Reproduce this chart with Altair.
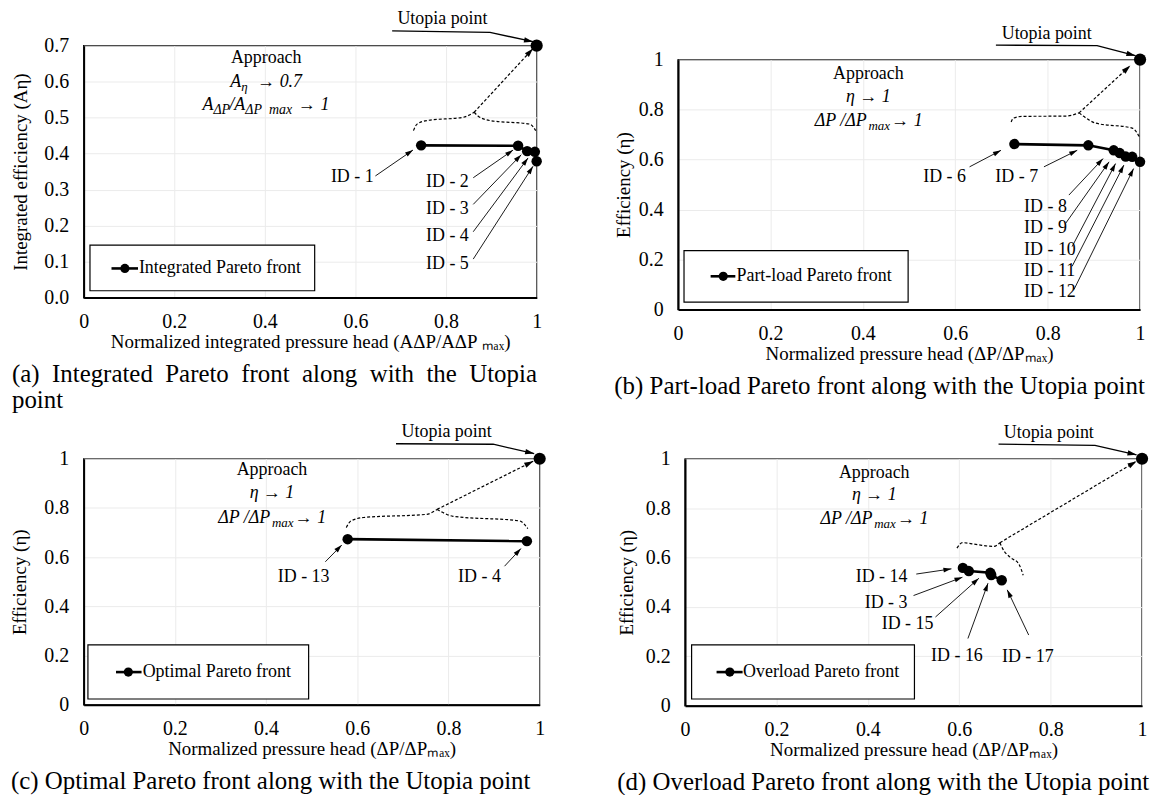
import math
import altair as alt
import pandas as pd

SERIF = "Liberation Serif"
ARROW_HEAD = "M0,0L0.3,1L-0.3,1Z"   # tip at the origin, body behind it
EN = "\u2002"                       # wide word gap for the justified caption line

X_TICKS = [0, 0.2, 0.4, 0.6, 0.8, 1]
Y_TICKS_A = [0, 0.1, 0.2, 0.3, 0.4, 0.5, 0.6, 0.7]
Y_TICKS = [0, 0.2, 0.4, 0.6, 0.8, 1]

# ---------------- (a) integrated Pareto front ----------------
a_ids = ["ID - 1", "ID - 2", "ID - 3", "ID - 4", "ID - 5"]
a_head = [0.745, 0.959, 0.979, 0.996, 1.000]
a_eff = [0.423, 0.422, 0.407, 0.405, 0.379]
a_lab_x = [0.593, 0.803, 0.803, 0.803, 0.803]
a_lab_y = [0.335, 0.322, 0.246, 0.170, 0.094]
a_lab_align = ["center"] * 5
a_tail_x = [0.644, 0.860, 0.860, 0.860, 0.860]
a_tail_y = [0.338, 0.333, 0.259, 0.183, 0.107]
a_tip_x = [0.727, 0.948, 0.966, 0.981, 0.992]
a_tip_y = [0.410, 0.410, 0.397, 0.388, 0.365]
a_brace_l_x = [0.728, 0.736, 0.758, 0.838, 0.862]
a_brace_l_y = [0.464, 0.482, 0.492, 0.501, 0.515]
a_brace_r_x = [0.862, 0.871, 0.897, 0.985, 0.998]
a_brace_r_y = [0.515, 0.504, 0.492, 0.482, 0.464]
a_dash_end = [0.992, 0.692]
a_lead_x = [0.681, 0.897, 0.992]
a_lead_y = [0.741, 0.737, 0.711]
a_utopia_lab = [0.792, 0.773]
a_appr_x = 0.403
a_appr_y = [0.665, 0.600, 0.534]
a_leg_box = [0.014, 0.510, 0.019, 0.146]
a_leg_line = [0.0615, 0.120]
a_leg_dot = 0.091
a_leg_y = 0.081
a_leg_text_x = 0.122

# ---------------- (b) part-load Pareto front ----------------
b_ids = ["ID - 6", "ID - 7", "ID - 8", "ID - 9", "ID - 10", "ID - 11", "ID - 12"]
b_head = [0.728, 0.888, 0.943, 0.956, 0.969, 0.983, 1.000]
b_eff = [0.662, 0.657, 0.637, 0.626, 0.612, 0.611, 0.591]
b_lab_x = [0.577, 0.733, 0.749, 0.749, 0.749, 0.749, 0.749]
b_lab_y = [0.531, 0.531, 0.412, 0.326, 0.240, 0.155, 0.070]
b_lab_align = ["center", "center", "left", "left", "left", "left", "left"]
b_tail_x = [0.631, 0.792, 0.846, 0.839, 0.853, 0.853, 0.857]
b_tail_y = [0.571, 0.571, 0.458, 0.345, 0.252, 0.173, 0.080]
b_tip_x = [0.699, 0.864, 0.920, 0.933, 0.947, 0.965, 0.986]
b_tip_y = [0.637, 0.637, 0.604, 0.591, 0.584, 0.578, 0.564]
b_brace_l_x = [0.721, 0.726, 0.746, 0.839, 0.868]
b_brace_l_y = [0.750, 0.766, 0.773, 0.774, 0.787]
b_brace_r_x = [0.868, 0.877, 0.904, 0.983, 0.999]
b_brace_r_y = [0.787, 0.774, 0.746, 0.726, 0.690]
b_dash_end = [0.979, 0.976]
b_lead_x = [0.688, 0.907, 0.990]
b_lead_y = [1.058, 1.056, 1.016]
b_utopia_lab = [0.798, 1.102]
b_appr_x = 0.412
b_appr_y = [0.943, 0.850, 0.755]
b_leg_box = [0.0129, 0.498, 0.030, 0.236]
b_leg_line = [0.0705, 0.124]
b_leg_dot = 0.0978
b_leg_y = 0.133
b_leg_text_x = 0.1265

# ---------------- (c) optimal Pareto front ----------------
c_ids = ["ID - 13", "ID - 4"]
c_head = [0.579, 0.972]
c_eff = [0.673, 0.665]
c_lab_x = [0.4825, 0.868]
c_lab_y = [0.520, 0.520]
c_lab_align = ["center", "center"]
c_tail_x = [0.530, 0.923]
c_tail_y = [0.581, 0.563]
c_tip_x = [0.566, 0.959]
c_tip_y = [0.649, 0.635]
c_brace_l_x = [0.576, 0.586, 0.614, 0.752, 0.775]
c_brace_l_y = [0.720, 0.747, 0.761, 0.774, 0.794]
c_brace_r_x = [0.775, 0.785, 0.810, 0.956, 0.974]
c_brace_r_y = [0.794, 0.784, 0.766, 0.747, 0.716]
c_dash_end = [0.986, 0.990]
c_lead_x = [0.685, 0.898, 0.988]
c_lead_y = [1.061, 1.059, 1.021]
c_utopia_lab = [0.796, 1.108]
c_appr_x = 0.413
c_appr_y = [0.954, 0.860, 0.760]
c_leg_box = [0.0094, 0.4934, 0.023, 0.243]
c_leg_line = [0.071, 0.127]
c_leg_dot = 0.098
c_leg_y = 0.1325
c_leg_text_x = 0.1295

# ---------------- (d) overload Pareto front ----------------
d_ids = ["ID - 14", "ID - 3", "ID - 15", "ID - 16", "ID - 17"]
d_head = [0.608, 0.621, 0.668, 0.670, 0.693]
d_eff = [0.558, 0.545, 0.538, 0.529, 0.508]
d_lab_x = [0.430, 0.440, 0.487, 0.595, 0.750]
d_lab_y = [0.522, 0.415, 0.330, 0.202, 0.198]
d_lab_align = ["center"] * 5
d_tail_x = [0.506, 0.500, 0.548, 0.619, 0.752]
d_tail_y = [0.533, 0.446, 0.359, 0.272, 0.286]
d_tip_x = [0.583, 0.607, 0.643, 0.663, 0.705]
d_tip_y = [0.554, 0.520, 0.516, 0.496, 0.469]
d_brace_l_x = [0.595, 0.607, 0.640, 0.675, 0.689]
d_brace_l_y = [0.638, 0.660, 0.652, 0.645, 0.660]
d_brace_r_x = [0.689, 0.695, 0.712, 0.730, 0.740]
d_brace_r_y = [0.660, 0.636, 0.600, 0.575, 0.528]
d_dash_end = [0.988, 0.990]
d_lead_x = [0.686, 0.897, 0.988]
d_lead_y = [1.059, 1.054, 1.016]
d_utopia_lab = [0.796, 1.103]
d_appr_x = 0.414
d_appr_y = [0.943, 0.852, 0.754]
d_leg_box = [0.0144, 0.502, 0.027, 0.246]
d_leg_line = [0.069, 0.126]
d_leg_dot = 0.098
d_leg_y = 0.136
d_leg_text_x = 0.127

# "Approach" formula lines: (text, dx, dy, size, align)
A_LINE2 = [("A", -36, 0, 18, "left"), ("η", -25, 5, 13, "left"), ("→ 0.7", -9, 0, 18, "left")]
A_LINE3 = [("A", -64, 0, 18, "left"), ("ΔP", -53, 5, 14, "left"), ("/A", -37, 0, 18, "left"),
           ("ΔP\u00a0\u00a0max", -21, 5, 14, "left"), ("→ 1", 32, 0, 18, "left")]
ETA_LINE2 = [("η → 1", 0, 0, 18, "center")]
ETA_LINE3 = [("ΔP /ΔP", -54, 0, 18, "left"), ("max", 0, 5, 13, "left"), ("→ 1", 23, 0, 18, "left")]

X_TITLE = "Normalized pressure head (ΔP/ΔPₘₐₓ)"
X_TITLE_A = "Normalized integrated pressure head (AΔP/AΔP ₘₐₓ)"

AXIS_STYLE = dict(labelFont=SERIF, labelFontSize=20, labelColor="black",
                  titleFont=SERIF, titleFontSize=19, titleFontWeight="normal", titleColor="black",
                  domainColor="black", domainWidth=2, gridColor="#ebebeb", gridWidth=1,
                  grid=True, ticks=False, labelFlush=False, labelOverlap=False)


def build_panel(p):
    W, H, ymax = p["w"], p["h"], p["ymax"]
    xsc = alt.Scale(domain=[0, 1], nice=False, zero=False)
    ysc = alt.Scale(domain=[0, ymax], nice=False, zero=False)
    ppx, ppy = W, H / ymax

    # one shared axis definition per channel, repeated on every layer so they merge cleanly
    x_axis = alt.Axis(values=X_TICKS, format="~g", title=p["xtitle"],
                      labelPadding=14, titlePadding=1, **AXIS_STYLE)
    y_axis = alt.Axis(values=p["yticks"], format=p["yfmt"], title=p["ytitle"],
                      labelPadding=15, titlePadding=p["ytitlepad"], **AXIS_STYLE)

    def ex(f="x"):
        return alt.X(f"{f}:Q", scale=xsc, axis=x_axis, title=p["xtitle"])

    def ey(f="y"):
        return alt.Y(f"{f}:Q", scale=ysc, axis=y_axis, title=p["ytitle"])

    def heading(x0, y0, x1, y1):
        return math.degrees(math.atan2((x1 - x0) * ppx, (y1 - y0) * ppy)) % 360

    def text(x, y, t, size=18, align="center", dx=0, dy=0, italic=False):
        df = pd.DataFrame({"x": [x], "y": [y], "t": [t]})
        kw = dict(font=SERIF, fontSize=size, align=align, baseline="middle",
                  dx=dx, dy=dy, color="black")
        if italic:
            kw["fontStyle"] = "italic"
        return alt.Chart(df).mark_text(**kw).encode(x=ex(), y=ey(), text="t:N")

    def heads(xs0, ys0, xs1, ys1, size):
        df = pd.DataFrame({
            "x": xs1, "y": ys1,
            "ang": [heading(a, b, c, d) for a, b, c, d in zip(xs0, ys0, xs1, ys1)],
        })
        return alt.Chart(df).mark_point(shape=ARROW_HEAD, filled=True, size=size,
                                        color="black", opacity=1, strokeWidth=0).encode(
            x=ex(), y=ey(), angle=alt.Angle("ang:Q", scale=None))

    layers = []

    # legend frame with its line-and-dot sample
    lb = p["leg_box"]
    box = pd.DataFrame({"x0": [lb[0]], "x1": [lb[1]], "y0": [lb[2]], "y1": [lb[3]]})
    layers.append(alt.Chart(box).mark_rect(fill="white", stroke="black", strokeWidth=1.2).encode(
        x=ex("x0"), x2=alt.X2("x1"), y=ey("y0"), y2=alt.Y2("y1")))
    sample = pd.DataFrame({"x0": [p["leg_line"][0]], "x1": [p["leg_line"][1]], "y": [p["leg_y"]]})
    layers.append(alt.Chart(sample).mark_rule(color="black", strokeWidth=2.6).encode(
        x=ex("x0"), x2=alt.X2("x1"), y=ey()))
    dot = pd.DataFrame({"x": [p["leg_dot"]], "y": [p["leg_y"]]})
    layers.append(alt.Chart(dot).mark_circle(size=85, color="black", opacity=1).encode(x=ex(), y=ey()))
    layers.append(text(p["leg_text_x"], p["leg_y"], p["leg_text"], align="left"))

    # dashed brace over the front and dashed arrow towards the Utopia point
    bl_x, bl_y = p["brace_l"]
    br_x, br_y = p["brace_r"]
    brace = pd.DataFrame({
        "x": bl_x + br_x, "y": bl_y + br_y,
        "half": ["l"] * len(bl_x) + ["r"] * len(br_x),
        "o": list(range(len(bl_x))) + list(range(len(br_x))),
    })
    layers.append(alt.Chart(brace).mark_line(color="black", strokeWidth=1.2, strokeDash=[3, 2],
                                             interpolate="monotone").encode(
        x=ex(), y=ey(), detail="half:N", order="o:Q"))
    tip_x, tip_y = bl_x[-1], bl_y[-1]
    dash = pd.DataFrame({"x0": [tip_x], "y0": [tip_y], "x1": [p["dash_end"][0]], "y1": [p["dash_end"][1]]})
    layers.append(alt.Chart(dash).mark_rule(color="black", strokeWidth=1.2, strokeDash=[3, 2]).encode(
        x=ex("x0"), y=ey("y0"), x2=alt.X2("x1"), y2=alt.Y2("y1")))
    layers.append(heads([tip_x], [tip_y], [p["dash_end"][0]], [p["dash_end"][1]], 330))

    # ID call-out arrows and labels
    arrows = pd.DataFrame({"x0": p["tail_x"], "y0": p["tail_y"], "x1": p["tip_x"], "y1": p["tip_y"]})
    layers.append(alt.Chart(arrows).mark_rule(color="black", strokeWidth=0.9).encode(
        x=ex("x0"), y=ey("y0"), x2=alt.X2("x1"), y2=alt.Y2("y1")))
    layers.append(heads(p["tail_x"], p["tail_y"], p["tip_x"], p["tip_y"], 260))
    for t, lx, ly, al in zip(p["ids"], p["lab_x"], p["lab_y"], p["lab_align"]):
        layers.append(text(lx, ly, t, align=al))

    # Pareto front: line through the designs plus filled markers
    front = pd.DataFrame({"x": p["head"], "y": p["eff"], "o": list(range(len(p["head"])))})
    layers.append(alt.Chart(front).mark_line(color="black", strokeWidth=2.6).encode(
        x=ex(), y=ey(), order="o:Q"))
    layers.append(alt.Chart(front).mark_circle(size=110, color="black", opacity=1).encode(x=ex(), y=ey()))

    # Utopia point, its label and leader arrow
    utopia = pd.DataFrame({"x": [1.0], "y": [ymax]})
    layers.append(alt.Chart(utopia).mark_circle(size=150, color="black", opacity=1).encode(x=ex(), y=ey()))
    lead = pd.DataFrame({"x": p["lead_x"], "y": p["lead_y"], "o": [0, 1, 2]})
    layers.append(alt.Chart(lead).mark_line(color="black", strokeWidth=1.3).encode(
        x=ex(), y=ey(), order="o:Q"))
    layers.append(heads([p["lead_x"][1]], [p["lead_y"][1]], [p["lead_x"][2]], [p["lead_y"][2]], 330))
    layers.append(text(p["utopia_lab"][0], p["utopia_lab"][1], "Utopia point"))

    # "Approach" note
    ax = p["appr_x"]
    layers.append(text(ax, p["appr_y"][0], "Approach"))
    for line, ly in ((p["line2"], p["appr_y"][1]), (p["line3"], p["appr_y"][2])):
        for t, dx, dy, size, al in line:
            layers.append(text(ax, ly, t, size=size, align=al, dx=dx, dy=dy, italic=True))

    cap = alt.TitleParams(text=p["caption"], orient="bottom", anchor="start", frame="bounds",
                          offset=11, lineHeight=26, font=SERIF, fontSize=25,
                          fontWeight="normal", color="black")
    return alt.layer(*layers).properties(width=W, height=H, title=cap)


panels = {
    "a": dict(w=455, h=253, ymax=0.7, yticks=Y_TICKS_A, yfmt=".1f",
              xtitle=X_TITLE_A, ytitle="Integrated efficiency (Aη)", ytitlepad=13,
              caption=[EN.join("(a) Integrated Pareto front along with the Utopia".split(" ")), "point"],
              ids=a_ids, head=a_head, eff=a_eff, lab_x=a_lab_x, lab_y=a_lab_y, lab_align=a_lab_align,
              tail_x=a_tail_x, tail_y=a_tail_y, tip_x=a_tip_x, tip_y=a_tip_y,
              brace_l=(a_brace_l_x, a_brace_l_y), brace_r=(a_brace_r_x, a_brace_r_y),
              dash_end=a_dash_end, lead_x=a_lead_x, lead_y=a_lead_y, utopia_lab=a_utopia_lab,
              appr_x=a_appr_x, appr_y=a_appr_y, line2=A_LINE2, line3=A_LINE3,
              leg_box=a_leg_box, leg_line=a_leg_line, leg_dot=a_leg_dot, leg_y=a_leg_y,
              leg_text_x=a_leg_text_x, leg_text="Integrated Pareto front"),
    "b": dict(w=464, h=251, ymax=1.0, yticks=Y_TICKS, yfmt="~g",
              xtitle=X_TITLE, ytitle="Efficiency (η)", ytitlepad=5,
              caption="(b) Part-load Pareto front along with the Utopia point",
              ids=b_ids, head=b_head, eff=b_eff, lab_x=b_lab_x, lab_y=b_lab_y, lab_align=b_lab_align,
              tail_x=b_tail_x, tail_y=b_tail_y, tip_x=b_tip_x, tip_y=b_tip_y,
              brace_l=(b_brace_l_x, b_brace_l_y), brace_r=(b_brace_r_x, b_brace_r_y),
              dash_end=b_dash_end, lead_x=b_lead_x, lead_y=b_lead_y, utopia_lab=b_utopia_lab,
              appr_x=b_appr_x, appr_y=b_appr_y, line2=ETA_LINE2, line3=ETA_LINE3,
              leg_box=b_leg_box, leg_line=b_leg_line, leg_dot=b_leg_dot, leg_y=b_leg_y,
              leg_text_x=b_leg_text_x, leg_text="Part-load Pareto front"),
    "c": dict(w=458, h=247, ymax=1.0, yticks=Y_TICKS, yfmt="~g",
              xtitle=X_TITLE, ytitle="Efficiency (η)", ytitlepad=14,
              caption="(c) Optimal Pareto front along with the Utopia point",
              ids=c_ids, head=c_head, eff=c_eff, lab_x=c_lab_x, lab_y=c_lab_y, lab_align=c_lab_align,
              tail_x=c_tail_x, tail_y=c_tail_y, tip_x=c_tip_x, tip_y=c_tip_y,
              brace_l=(c_brace_l_x, c_brace_l_y), brace_r=(c_brace_r_x, c_brace_r_y),
              dash_end=c_dash_end, lead_x=c_lead_x, lead_y=c_lead_y, utopia_lab=c_utopia_lab,
              appr_x=c_appr_x, appr_y=c_appr_y, line2=ETA_LINE2, line3=ETA_LINE3,
              leg_box=c_leg_box, leg_line=c_leg_line, leg_dot=c_leg_dot, leg_y=c_leg_y,
              leg_text_x=c_leg_text_x, leg_text="Optimal Pareto front"),
    "d": dict(w=459, h=248, ymax=1.0, yticks=Y_TICKS, yfmt="~g",
              xtitle=X_TITLE, ytitle="Efficiency (η)", ytitlepad=9,
              caption="(d) Overload Pareto front along with the Utopia point",
              ids=d_ids, head=d_head, eff=d_eff, lab_x=d_lab_x, lab_y=d_lab_y, lab_align=d_lab_align,
              tail_x=d_tail_x, tail_y=d_tail_y, tip_x=d_tip_x, tip_y=d_tip_y,
              brace_l=(d_brace_l_x, d_brace_l_y), brace_r=(d_brace_r_x, d_brace_r_y),
              dash_end=d_dash_end, lead_x=d_lead_x, lead_y=d_lead_y, utopia_lab=d_utopia_lab,
              appr_x=d_appr_x, appr_y=d_appr_y, line2=ETA_LINE2, line3=ETA_LINE3,
              leg_box=d_leg_box, leg_line=d_leg_line, leg_dot=d_leg_dot, leg_y=d_leg_y,
              leg_text_x=d_leg_text_x, leg_text="Overload Pareto front"),
}

row1 = alt.hconcat(build_panel(panels["a"]), build_panel(panels["b"]), spacing=70, center=True)
row2 = alt.hconcat(build_panel(panels["c"]), build_panel(panels["d"]), spacing=70)

chart = (
    alt.vconcat(row1, row2, spacing=8)
    .properties(padding={"left": 10, "top": 8, "right": 0, "bottom": 0}, background="white")
    .configure_view(stroke="black", strokeWidth=1.4)
)

chart.save("out.html", embed_options={"renderer": "svg", "actions": False})
